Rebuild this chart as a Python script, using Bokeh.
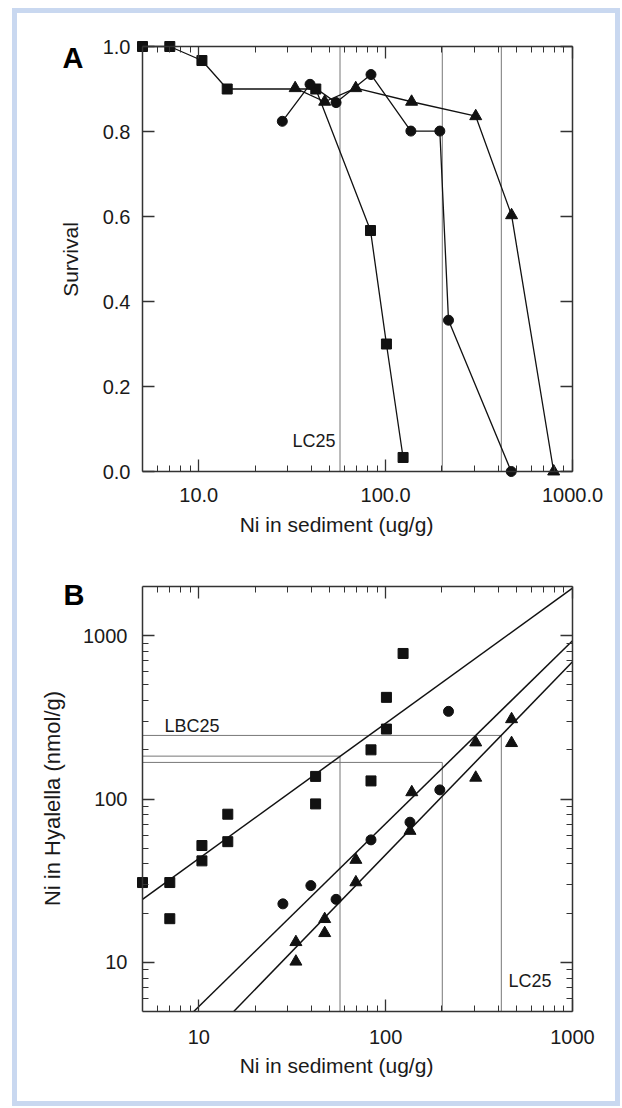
import math
from bokeh.plotting import figure
from bokeh.models import LogAxis, LinearAxis, FixedTicker, Label, Range1d
from bokeh.layouts import column
from bokeh.embed import file_html
from bokeh.resources import INLINE

# ---------------- data ----------------
# Panel A: survival vs Ni in sediment (ug/g)
a_sq_dose = [5, 7, 10.4, 14.2, 42.3, 83, 101, 124]
a_sq_surv = [1.0, 1.0, 0.967, 0.90, 0.90, 0.567, 0.30, 0.033]
a_ci_dose = [28, 39.4, 54.3, 83.5, 136.5, 195, 217, 470]
a_ci_surv = [0.824, 0.911, 0.868, 0.934, 0.801, 0.801, 0.356, 0.0]
a_tr_dose = [32.8, 47.2, 69.2, 137.7, 303.5, 472, 793]
a_tr_surv = [0.902, 0.870, 0.902, 0.870, 0.836, 0.603, 0.0]

# Panel B: Ni in Hyalella (nmol/g) vs Ni in sediment (ug/g)
b_sq_dose = [5, 7, 7, 10.4, 10.4, 14.3, 14.3, 42.2, 42.2, 83.5, 83.5, 101, 101, 124]
b_sq_tiss = [30.8, 30.8, 18.5, 51.9, 41.8, 80.7, 54.8, 137.5, 93.3, 200, 129, 419, 268, 778]
b_ci_dose = [28.2, 39.8, 54.3, 83.5, 135, 195, 217]
b_ci_tiss = [22.8, 29.5, 24.3, 56.2, 72.1, 113.7, 344]
b_tr_dose = [33.1, 33.1, 47.2, 47.2, 69.3, 69.3, 138, 135, 303.5, 303.5, 472, 472]
b_tr_tiss = [13.3, 10.1, 18.4, 15.1, 42.4, 30.9, 110, 63.8, 222, 135, 308, 220]

# LC25 (sediment) and LBC25 (tissue) per series: squares, circles, triangles
lc25 = [57, 201, 416]
lbc25 = [183, 167.5, 245]

# log-log regression fits: log10(tissue) = a + b*log10(sediment)
fit_a = [0.807, -0.391, -0.703]
fit_b = [0.828, 1.12, 1.181]

# ticks
x_tick_values = [10, 100, 1000]
a_x_tick_labels = ["10.0", "100.0", "1000.0"]
b_x_tick_labels = ["10", "100", "1000"]
a_y_tick_values = [0.0, 0.2, 0.4, 0.6, 0.8, 1.0]
a_y_tick_labels = ["0.0", "0.2", "0.4", "0.6", "0.8", "1.0"]
b_y_tick_values = [10, 100, 1000]
b_y_tick_labels = ["10", "100", "1000"]

X_LO, X_HI = 5, 1000
AY_LO, AY_HI = 0, 1
BY_LO, BY_HI = 5, 2000

# ---------------- layout geometry (page pixels) ----------------
FIG_L, FIG_W = 17, 598
A_FIG_T, A_FIG_H = 13, 542
B_FIG_T, B_FIG_H = 555, 546
BOX_L, BOX_R = 142, 572
A_TOP, A_BOT = 46, 471
B_TOP, B_BOT = 586, 1011

DEC_X = (BOX_R - BOX_L) / math.log10(X_HI / X_LO)
DEC_YB = (B_BOT - B_TOP) / math.log10(BY_HI / BY_LO)


def xd(px):
    return 10 ** (math.log10(X_LO) + (px - BOX_L) / DEC_X)


def ya(py):
    return AY_LO + (A_BOT - py) * (AY_HI - AY_LO) / (A_BOT - A_TOP)


def yb(py):
    return 10 ** (math.log10(BY_LO) + (B_BOT - py) / DEC_YB)


# ---------------- style ----------------
FONT = "Liberation Sans"
INK = "#111111"
AX = "#333333"
GRAY = "#777777"
TXT = "#1a1a1a"
FRAME_BLUE = "#c9d8f0"


def log_minor(lo, hi):
    out = []
    for k in range(-1, 5):
        for m in range(2, 10):
            v = m * 10 ** k
            if lo < v < hi:
                out.append(v)
    return out


def style_axis(ax, ticks, minor, loc, bounds, labels=None, standoff=14):
    ax.fixed_location = loc
    ax.bounds = bounds
    ax.ticker = FixedTicker(ticks=ticks, minor_ticks=minor)
    ax.axis_line_color = AX
    ax.axis_line_width = 1.5
    ax.major_tick_line_color = AX
    ax.major_tick_line_width = 1.3
    ax.minor_tick_line_color = AX if minor else None
    ax.minor_tick_line_width = 1.0
    ax.major_tick_in = 12
    ax.major_tick_out = 0
    ax.minor_tick_in = 6
    ax.minor_tick_out = 0
    ax.major_label_text_font = FONT
    ax.major_label_text_color = TXT
    if labels is None:
        ax.major_label_overrides = {t: "" for t in ticks}
        ax.major_label_text_font_size = "0px"
        ax.major_label_standoff = 0
    else:
        ax.major_label_overrides = {t: s for t, s in zip(ticks, labels)}
        ax.major_label_text_font_size = "20px"
        ax.major_label_standoff = standoff


def make_fig(height, y_type, y_range):
    p = figure(width=FIG_W, height=height, x_axis_type="log", y_axis_type=y_type,
               x_range=Range1d(xd(FIG_L), xd(FIG_L + FIG_W)), y_range=y_range,
               output_backend="svg", toolbar_location=None,
               min_border=0, min_border_left=0, min_border_right=0,
               min_border_top=0, min_border_bottom=0)
    p.grid.visible = False
    p.outline_line_color = None
    p.background_fill_color = "white"
    p.border_fill_color = "white"
    return p


def text(p, x, y, s, size, align="center", angle=0.0, bold=False):
    # (x, y) is the visual centre line of the glyphs
    p.add_layout(Label(x=x, y=y, text=s, text_font=FONT, text_font_size=size,
                       text_font_style="bold" if bold else "normal",
                       text_align=align, text_baseline="alphabetic",
                       angle=angle, text_color="#000" if bold else TXT))


x_minor = log_minor(X_LO, X_HI)

# ---------------- panel A ----------------
pA = make_fig(A_FIG_H, "linear", Range1d(ya(A_FIG_T + A_FIG_H), ya(A_FIG_T)))
pA.add_layout(LogAxis(), "above")
pA.add_layout(LinearAxis(), "right")
style_axis(pA.below[0], x_tick_values, x_minor, AY_LO, (X_LO, X_HI), a_x_tick_labels, 16)
style_axis(pA.above[0], x_tick_values, x_minor, AY_HI, (X_LO, X_HI))
style_axis(pA.left[0], a_y_tick_values, [], X_LO, (AY_LO, AY_HI), a_y_tick_labels, 12)
style_axis(pA.right[0], a_y_tick_values, [], X_HI, (AY_LO, AY_HI))

n = len(lc25)
pA.segment(x0=lc25, y0=[AY_LO] * n, x1=lc25, y1=[AY_HI] * n,
           line_color=GRAY, line_width=1, level="underlay")

for dose, surv, marker, size in [(a_sq_dose, a_sq_surv, "square", 10),
                                  (a_ci_dose, a_ci_surv, "circle", 10),
                                  (a_tr_dose, a_tr_surv, "triangle", 12)]:
    pA.line(dose, surv, line_color=INK, line_width=1.3)
    pA.scatter(dose, surv, marker=marker, size=size, fill_color=INK, line_color=INK)

text(pA, xd(335), ya(440), "LC25", "18px", align="right")
text(pA, xd(62), ya(57), "A", "29px", align="left", bold=True)
text(pA, xd(336), ya(524), "Ni in sediment (ug/g)", "21px")
text(pA, xd(70), ya(259), "Survival", "21px", angle=math.pi / 2)

# ---------------- panel B ----------------
pB = make_fig(B_FIG_H, "log", Range1d(yb(B_FIG_T + B_FIG_H), yb(B_FIG_T)))
pB.add_layout(LogAxis(), "above")
pB.add_layout(LogAxis(), "right")
y_minor = log_minor(BY_LO, BY_HI)
style_axis(pB.below[0], x_tick_values, x_minor, BY_LO, (X_LO, X_HI), b_x_tick_labels, 18)
style_axis(pB.above[0], x_tick_values, x_minor, BY_HI, (X_LO, X_HI))
style_axis(pB.left[0], b_y_tick_values, y_minor, X_LO, (BY_LO, BY_HI), b_y_tick_labels, 15)
style_axis(pB.right[0], b_y_tick_values, y_minor, X_HI, (BY_LO, BY_HI))

pB.segment(x0=[X_LO] * n, y0=lbc25, x1=lc25, y1=lbc25, line_color=GRAY, line_width=1)
pB.segment(x0=lc25, y0=[BY_LO] * n, x1=lc25, y1=lbc25, line_color=GRAY, line_width=1)

for a, b in zip(fit_a, fit_b):
    x0 = max(X_LO, 10 ** ((math.log10(BY_LO) - a) / b))
    x1 = min(X_HI, 10 ** ((math.log10(BY_HI) - a) / b))
    xs = [x0, x1]
    ys = [10 ** (a + b * math.log10(x)) for x in xs]
    pB.line(xs, ys, line_color=INK, line_width=1.5)

for dose, tiss, marker, size in [(b_sq_dose, b_sq_tiss, "square", 10),
                                  (b_ci_dose, b_ci_tiss, "circle", 10),
                                  (b_tr_dose, b_tr_tiss, "triangle", 12)]:
    pB.scatter(dose, tiss, marker=marker, size=size, fill_color=INK, line_color=INK)

text(pB, xd(164), yb(725), "LBC25", "18px", align="left")
text(pB, xd(508), yb(980), "LC25", "18px", align="left")
text(pB, xd(63), yb(594), "B", "29px", align="left", bold=True)
text(pB, xd(336), yb(1065), "Ni in sediment (ug/g)", "21px")
text(pB, xd(52), yb(798), "Ni in Hyalella (nmol/g)", "22px", angle=math.pi / 2)

layout = column(pA, pB, margin=(8, 0, 0, 12),
                styles={"border": "5px solid " + FRAME_BLUE, "background-color": "white"})

open("out.html", "w").write(file_html(layout, INLINE))
